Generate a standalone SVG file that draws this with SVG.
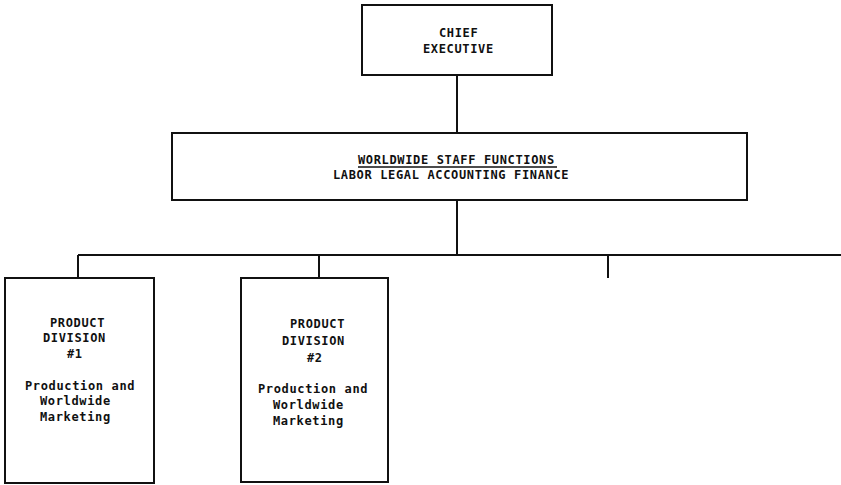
<svg xmlns="http://www.w3.org/2000/svg" width="841" height="485" viewBox="0 0 841 485">
  <style>
    .box { fill: #ffffff; stroke: #111111; stroke-width: 2; }
    .wire { fill: none; stroke: #111111; stroke-width: 2; }
    .lbl { font-family: "DejaVu Sans Mono", "Liberation Mono", monospace; font-size: 12px; font-weight: bold; letter-spacing: 0.65px; fill: #111111; }
  </style>
  <rect width="841" height="485" fill="#ffffff"/>

  <!-- reporting lines -->
  <g id="connectors">
    <line class="wire" x1="457" y1="75" x2="457" y2="133"/>
    <line class="wire" x1="457" y1="200" x2="457" y2="255"/>
    <line class="wire" x1="78" y1="255" x2="841" y2="255"/>
    <line class="wire" x1="78" y1="255" x2="78" y2="278"/>
    <line class="wire" x1="319" y1="255" x2="319" y2="278"/>
    <line class="wire" x1="608" y1="255" x2="608" y2="278"/>
  </g>

  <g id="chief-executive">
    <rect class="box" x="362" y="5" width="190" height="70"/>
    <text class="lbl" x="439" y="37">CHIEF</text>
    <text class="lbl" x="423" y="53">EXECUTIVE</text>
  </g>

  <g id="staff-functions">
    <rect class="box" x="172" y="133" width="575" height="67"/>
    <text class="lbl" x="358" y="164">WORLDWIDE STAFF FUNCTIONS</text>
    <line x1="358" y1="167" x2="557" y2="167" stroke="#111111" stroke-width="1.5"/>
    <text class="lbl" x="333" y="179">LABOR LEGAL ACCOUNTING FINANCE</text>
  </g>

  <g id="product-division-1">
    <rect class="box" x="5" y="278" width="149" height="205"/>
    <text class="lbl" x="50" y="327">PRODUCT</text>
    <text class="lbl" x="43" y="342">DIVISION</text>
    <text class="lbl" x="67" y="358">#1</text>
    <text class="lbl" x="25" y="390">Production and</text>
    <text class="lbl" x="40" y="405">Worldwide</text>
    <text class="lbl" x="40" y="421">Marketing</text>
  </g>

  <g id="product-division-2">
    <rect class="box" x="241" y="278" width="147" height="204"/>
    <text class="lbl" x="290" y="328">PRODUCT</text>
    <text class="lbl" x="282" y="345">DIVISION</text>
    <text class="lbl" x="307" y="362">#2</text>
    <text class="lbl" x="258" y="393">Production and</text>
    <text class="lbl" x="273" y="409">Worldwide</text>
    <text class="lbl" x="273" y="425">Marketing</text>
  </g>
</svg>
